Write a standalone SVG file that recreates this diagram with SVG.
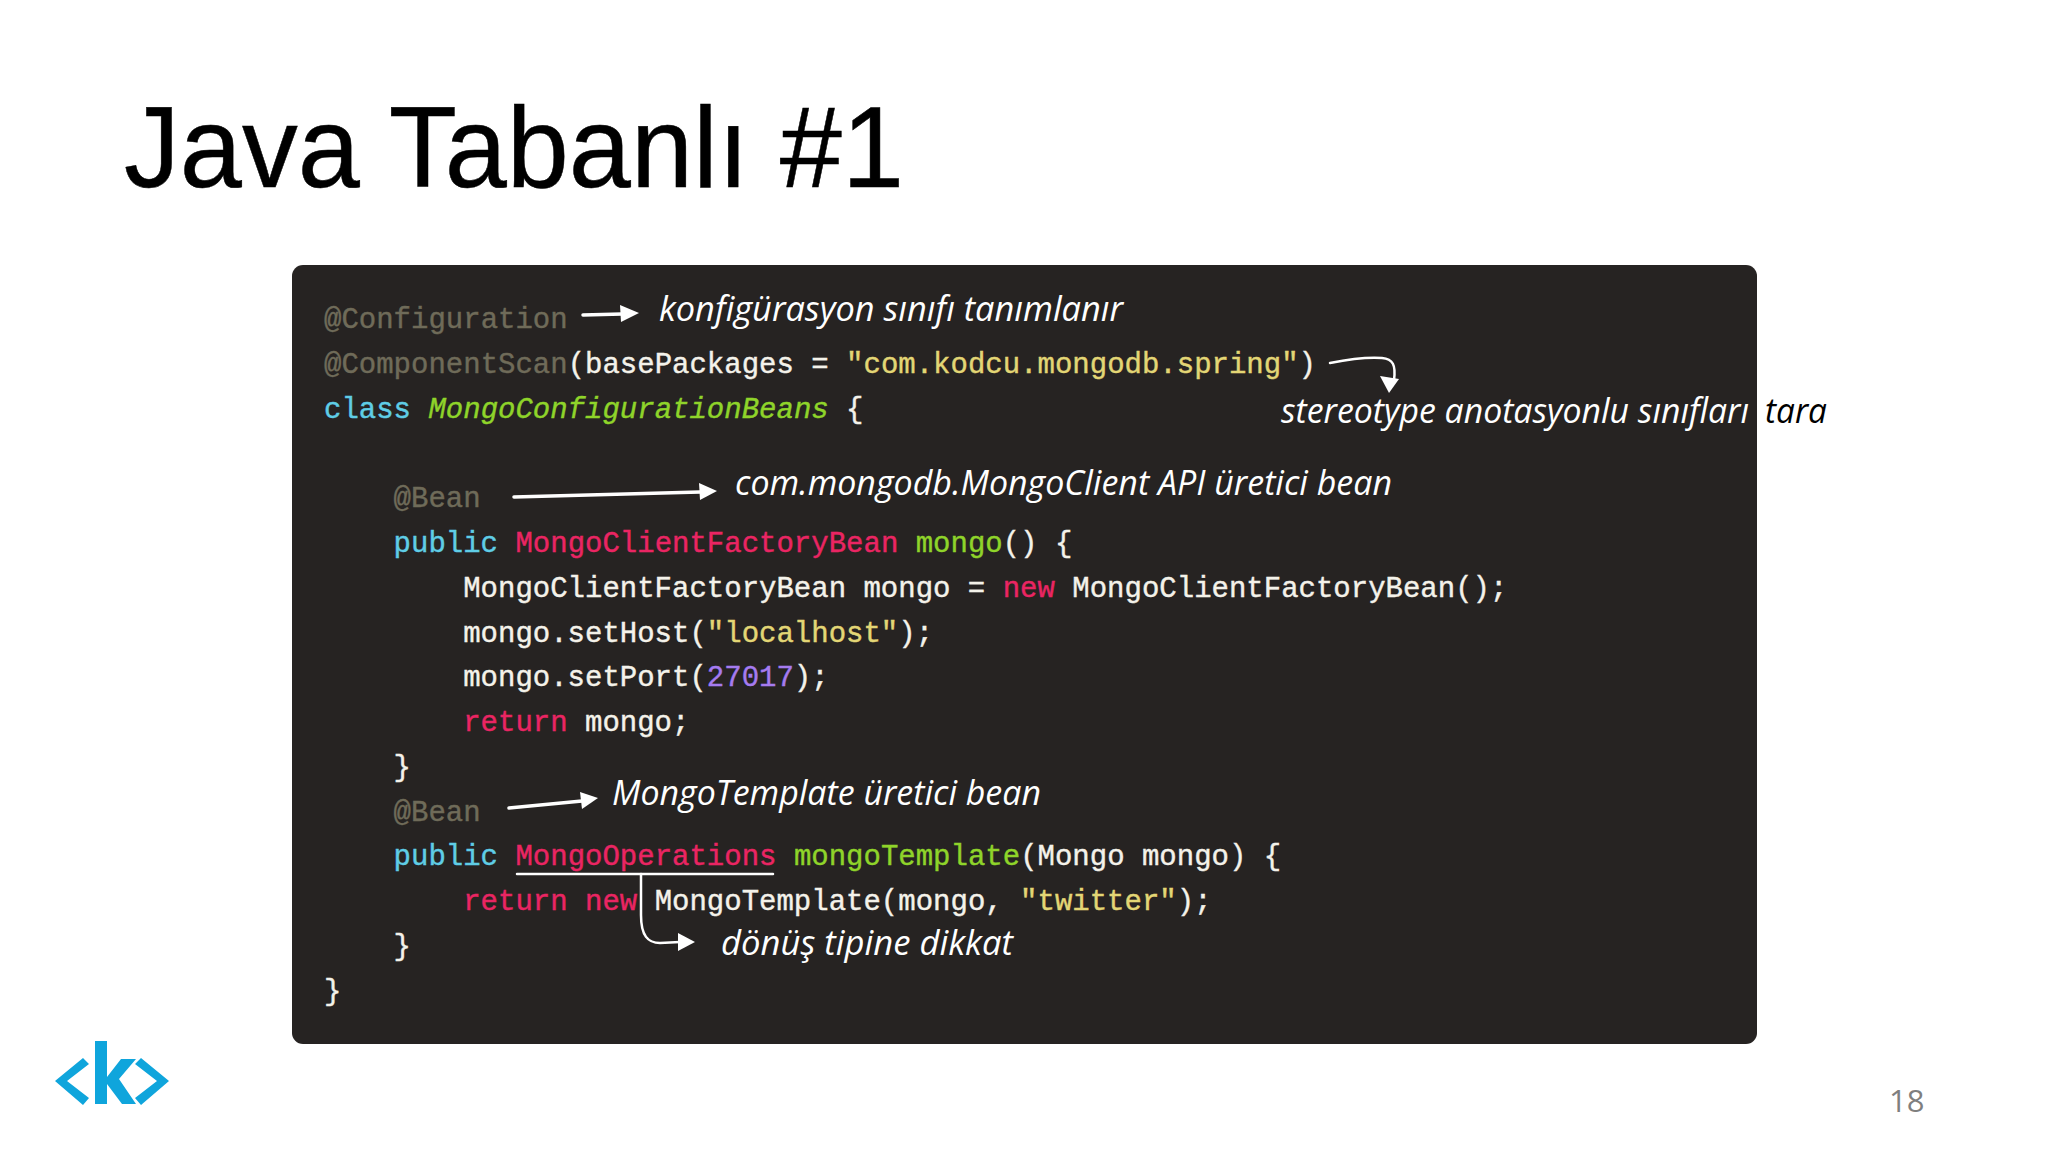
<svg xmlns="http://www.w3.org/2000/svg" width="2048" height="1153" viewBox="0 0 2048 1153">
<style>
.code{font-family:"Liberation Mono","DejaVu Sans Mono",monospace;font-size:29px;fill:#f4f2ea;stroke:#f4f2ea;stroke-width:.4;white-space:pre}
.c{fill:#6f6b59;stroke:#6f6b59}.s{fill:#e3d675;stroke:#e3d675}.k{fill:#5fcde6;stroke:#5fcde6}.p{fill:#ea2563;stroke:#ea2563}.g{fill:#8fd42a;stroke:#8fd42a}.n{fill:#a57bf0;stroke:#a57bf0}.i{font-style:italic}
.note{font-family:"Open Sans","Liberation Sans",sans-serif;font-style:italic;font-size:35px;fill:#fff}
.wire{fill:none;stroke:#fff;stroke-width:2.5;stroke-linecap:round}
.thick{stroke-width:3.5}
.head{fill:#fff}
</style>
<rect width="2048" height="1153" fill="#fff"/>
<text id="title" x="124" y="187" font-family="'Liberation Sans',Arial,sans-serif" font-size="115" fill="#000" stroke="#000" stroke-width=".5" textLength="780" lengthAdjust="spacingAndGlyphs">Java Tabanlı #1</text>
<g id="code-panel">
<rect x="292" y="265" width="1465" height="779" rx="11" fill="#262322"/>
<text class="code" x="324" y="328"><tspan class="c">@Configuration</tspan></text>
<text class="code" x="324" y="373"><tspan class="c">@ComponentScan</tspan>(basePackages = <tspan class="s">"com.kodcu.mongodb.spring"</tspan>)</text>
<text class="code" x="324" y="418"><tspan class="k">class</tspan> <tspan class="g i">MongoConfigurationBeans</tspan> {</text>
<text class="code" x="393.6" y="507"><tspan class="c">@Bean</tspan></text>
<text class="code" x="393.6" y="552"><tspan class="k">public</tspan> <tspan class="p">MongoClientFactoryBean</tspan> <tspan class="g">mongo</tspan>() {</text>
<text class="code" x="463.2" y="597">MongoClientFactoryBean mongo = <tspan class="p">new</tspan> MongoClientFactoryBean();</text>
<text class="code" x="463.2" y="642">mongo.setHost(<tspan class="s">"localhost"</tspan>);</text>
<text class="code" x="463.2" y="686">mongo.setPort(<tspan class="n">27017</tspan>);</text>
<text class="code" x="463.2" y="731"><tspan class="p">return</tspan> mongo;</text>
<text class="code" x="393.6" y="776">}</text>
<text class="code" x="393.6" y="821"><tspan class="c">@Bean</tspan></text>
<text class="code" x="393.6" y="865"><tspan class="k">public</tspan> <tspan class="p">MongoOperations</tspan> <tspan class="g">mongoTemplate</tspan>(Mongo mongo) {</text>
<text class="code" x="463.2" y="910"><tspan class="p">return</tspan> <tspan class="p">new</tspan> MongoTemplate(mongo, <tspan class="s">"twitter"</tspan>);</text>
<text class="code" x="393.6" y="955">}</text>
<text class="code" x="324" y="1000">}</text>
</g>
<g id="note-configuration"><text class="note" x="659" y="321" textLength="464" lengthAdjust="spacingAndGlyphs">konfigürasyon sınıfı tanımlanır</text></g>
<g id="note-scan"><text class="note" x="1281" y="423" textLength="468" lengthAdjust="spacingAndGlyphs">stereotype anotasyonlu sınıfları</text><text class="note" x="1765" y="423" textLength="62" lengthAdjust="spacingAndGlyphs" style="fill:#000">tara</text></g>
<g id="note-mongoclient"><text class="note" x="735" y="495" textLength="657" lengthAdjust="spacingAndGlyphs">com.mongodb.MongoClient API üretici bean</text></g>
<g id="note-mongotemplate"><text class="note" x="612" y="805" textLength="429" lengthAdjust="spacingAndGlyphs">MongoTemplate üretici bean</text></g>
<g id="note-return"><text class="note" x="721" y="955" textLength="292" lengthAdjust="spacingAndGlyphs">dönüş tipine dikkat</text></g>
<g id="connectors">
<path class="wire thick" d="M583 315L622 314"/><path class="head" d="M620 305L639 313L621 322Z"/>
<path class="wire thick" d="M514 497L700 492"/><path class="head" d="M699 483L717 491L700 500Z"/>
<path class="wire" d="M1330 363C1350 359 1368 357 1382 358C1393 359 1396 365 1394 380"/><path class="head" d="M1380 376L1399 379L1389 393Z"/>
<path class="wire thick" d="M509 808L582 801"/><path class="head" d="M580 792L598 798L582 809Z"/>
<path class="wire" d="M517 874H773"/>
<path class="wire" d="M641 874V915C641 936 648 943 660 943L680 942"/><path class="head" d="M678 933L695 942L678 951Z"/>
</g>
<g id="logo" fill="#0fa5dc">
<path d="M55 1081L83 1058L89 1064L67 1081L89 1098L83 1105Z"/>
<path d="M95 1041H107V1077L121 1059H136L119 1079L136 1104H122L107 1084V1104H95Z"/>
<path d="M169 1081L141 1058L135 1064L157 1081L135 1098L141 1105Z"/>
</g>
<text id="page-number" x="1889" y="1112" font-family="'Open Sans','Noto Sans',sans-serif" font-size="31" fill="#7f7f7f">18</text>
</svg>
